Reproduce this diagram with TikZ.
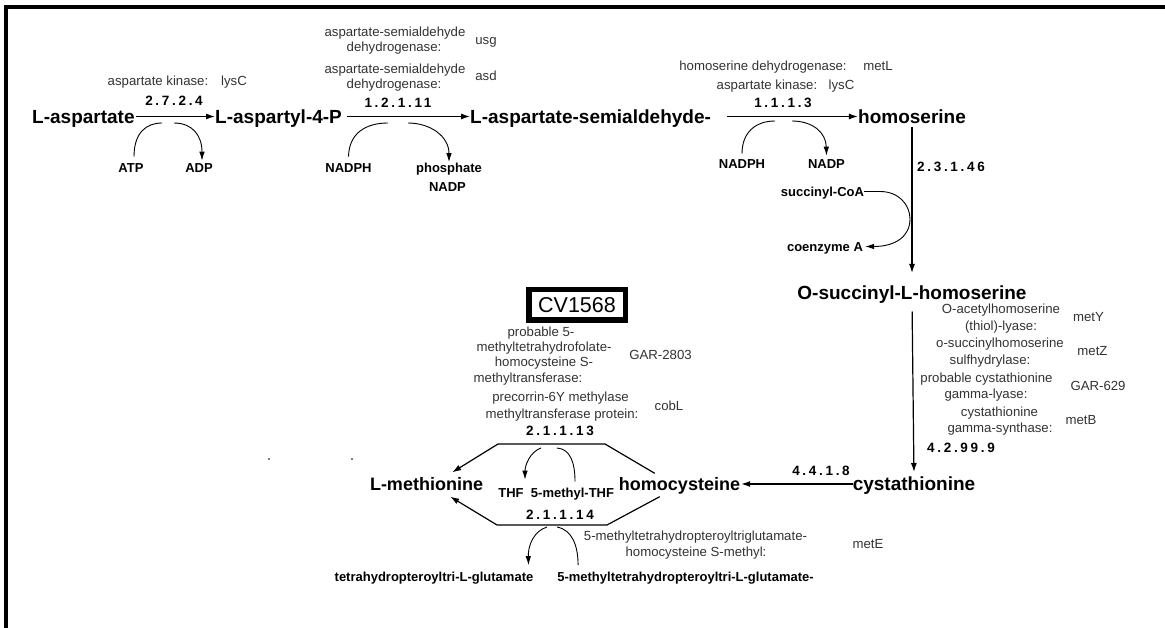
\documentclass[tikz,border=0pt]{standalone}
\usepackage{fontspec}
\setmainfont{Liberation Sans}
\newfontfamily\ecfont[LetterSpace=20]{Liberation Sans}
\usetikzlibrary{arrows.meta}
\begin{document}
\begin{tikzpicture}[x=1pt,y=-1pt,
  cmp/.style={font=\bfseries\fontsize{19}{22}\selectfont, inner sep=0pt, text height=13.6pt, text depth=0pt},
  cmpb/.style={font=\bfseries\fontsize{18}{21}\selectfont, inner sep=0pt, text height=12.9pt, text depth=0pt},
  sml/.style={font=\bfseries\fontsize{13}{15}\selectfont, inner sep=0pt, text height=9.3pt, text depth=0pt},
  enz/.style={font=\fontsize{13.2}{15}\selectfont, inner sep=0pt, text height=9.5pt, text depth=2.8pt, text=black!80},
  ecn/.style={font=\ecfont\bfseries\fontsize{13.5}{15}\selectfont, inner sep=0pt, text height=9.7pt, text depth=0pt},
  rxn/.style={line width=1.2pt, line join=round, -{Latex[length=9pt,width=6pt]}},
  sidecurve/.style={line width=0.9pt},
  sidearr/.style={line width=0.9pt, -{Latex[length=9pt,width=5.5pt]}},
  genebox/.style={draw, line width=5.5pt, minimum width=96.5pt, minimum height=30.5pt, inner sep=0pt, font=\fontsize{21.5}{24}\selectfont}
]
\useasboundingbox (0,0) rectangle (1165,628);
\fill[white] (0,0) rectangle (1165,628);
% frame along the top and left edges
\draw[line width=3.5pt] (6,628) -- (6,7) -- (1165,7);

% ---------- L-aspartate -> L-aspartyl-4-P ----------
\node[cmp,anchor=west] (asp) at (32,116.5) {L-aspartate};
\node[cmp,anchor=west] (aspp) at (215,116.5) {L-aspartyl-4-P};
\node[cmp,anchor=west] (asa) at (470,116.5) {L-aspartate-semialdehyde-};
\node[cmp] (hser) at (912,116.5) {homoserine};
\draw[rxn, shorten <=1pt] (asp.east) -- (aspp.west);
\draw[rxn, shorten <=5pt] (aspp.east) -- (asa.west);
\draw[rxn, shorten <=16pt] (asa.east) -- (hser.west);

\node[ecn] (ec1) at (174,101) {2.7.2.4};
\node[enz] (e1n) at (158,82) {aspartate kinase:};
\node[enz] (e1g) at (234,82) {lysC};
\node[sml] (atp) at (131,167.5) {ATP};
\node[sml] (adp) at (199,167.5) {ADP};
\coordinate (r1l) at (162,123);
\coordinate (r1r) at (174,123);
\draw[sidecurve] ([xshift=3pt,yshift=6pt]atp.north) .. controls (134,133) and (146,123) .. (r1l);
\draw[sidearr] (r1r) .. controls (192,123) and (202,135) .. ([xshift=3pt,yshift=2pt]adp.north);

% ---------- L-aspartyl-4-P -> L-aspartate-semialdehyde ----------
\node[ecn] (ec2) at (398,103) {1.2.1.11};
\node[enz] (e2a) at (395,33) {aspartate-semialdehyde};
\node[enz] (e2b) at (394,48) {dehydrogenase:};
\node[enz] (e2g) at (486,41) {usg};
\node[enz] (e2c) at (395,70) {aspartate-semialdehyde};
\node[enz] (e2d) at (394,85) {dehydrogenase:};
\node[enz] (e2h) at (486,77) {asd};
\node[sml] (nadph1) at (348.5,167.5) {NADPH};
\node[sml] (pho) at (449,168) {phosphate};
\node[sml] (nadp1) at (447.5,186.5) {NADP};
\coordinate (r2l) at (388,123);
\coordinate (r2r) at (408,123);
\draw[sidecurve] ([yshift=6pt]nadph1.north) .. controls (349,133) and (366,123) .. (r2l);
\draw[sidearr] (r2r) .. controls (430,123) and (449,136) .. ([yshift=1pt]pho.north);

% ---------- L-aspartate-semialdehyde -> homoserine ----------
\node[ecn] (ec3) at (783,103) {1.1.1.3};
\node[enz] (e3a) at (763,67) {homoserine dehydrogenase:};
\node[enz] (e3g) at (878,67) {metL};
\node[enz] (e3b) at (767,86) {aspartate kinase:};
\node[enz] (e3h) at (841.5,86) {lysC};
\node[sml] (nadph2) at (742,163.5) {NADPH};
\node[sml] (nadp2) at (826.5,163.5) {NADP};
\coordinate (r3l) at (775,121);
\coordinate (r3r) at (792,121);
\draw[sidecurve] ([yshift=5pt]nadph2.north) .. controls (742,132) and (756,121) .. (r3l);
\draw[sidearr] (r3r) .. controls (812,121) and (826,132) .. ([yshift=3pt]nadp2.north);

% ---------- homoserine -> O-succinyl-L-homoserine ----------
\node[cmp] (osh) at (912,292.5) {O-succinyl-L-homoserine};
\draw[rxn, shorten <=4pt, shorten >=12.5pt] (hser.south) -- (osh.north);
\node[ecn] (ec4) at (951,167) {2.3.1.46};
\node[sml] (sca) at (822.5,191.5) {succinyl-CoA};
\node[sml] (cza) at (825,246.5) {coenzyme A};
\coordinate (sbend) at (880,191.5);
\draw[sidearr] (sca.east) -- (sbend) .. controls (899,191.5) and (910,205) .. (910,219)
  .. controls (910,236) and (896,246.5) .. ([xshift=2pt]cza.east);

% ---------- O-succinyl-L-homoserine -> cystathionine ----------
\node[cmp] (cyst) at (914,484) {cystathionine};
\draw[rxn, shorten <=12pt, shorten >=5pt] (osh.south) -- (cyst.north);
\node[enz] (e5a) at (1001,310) {O-acetylhomoserine};
\node[enz] (e5b) at (1001,327) {(thiol)-lyase:};
\node[enz] (e5g) at (1088.5,318) {metY};
\node[enz] (e5c) at (1000,344) {o-succinylhomoserine};
\node[enz] (e5d) at (990,361) {sulfhydrylase:};
\node[enz] (e5h) at (1092.5,352) {metZ};
\node[enz] (e5e) at (986.5,379) {probable cystathionine};
\node[enz] (e5f) at (986,395) {gamma-lyase:};
\node[enz] (e5i) at (1098,387) {GAR-629};
\node[enz] (e5j) at (999.5,413) {cystathionine};
\node[enz] (e5k) at (1000,429) {gamma-synthase:};
\node[enz] (e5l) at (1081,421) {metB};
\node[ecn] (ec5) at (961,448) {4.2.99.9};

% ---------- cystathionine -> homocysteine ----------
\node[cmpb] (hcy) at (679.5,484) {homocysteine};
\draw[rxn, shorten >=1pt] (cyst.west) -- (hcy.east);
\node[ecn] (ec6) at (821,471) {4.4.1.8};

% ---------- homocysteine -> L-methionine ----------
\node[cmpb] (met) at (426.5,484) {L-methionine};
\coordinate (t13r) at (605,444);
\coordinate (t13l) at (498,444);
\draw[rxn] ([xshift=36pt,yshift=4pt]hcy.north west) -- (t13r) -- (t13l) -- ([xshift=-31pt,yshift=5pt]met.north east);
\coordinate (t14r) at (607,525);
\coordinate (t14l) at (497,525);
\draw[rxn] ([xshift=41pt,yshift=-6pt]hcy.south west) -- (t14r) -- (t14l) -- ([xshift=-33pt,yshift=-6pt]met.south east);

\node[genebox] (cv) at (577,305) {CV1568};
\node[enz] (e7a) at (541,333) {probable 5-};
\node[enz] (e7b) at (544,348) {methyltetrahydrofolate-};
\node[enz] (e7c) at (544,363) {homocysteine S-};
\node[enz] (e7d) at (528,379) {methyltransferase:};
\node[enz] (e7g) at (660.5,356) {GAR-2803};
\node[enz] (e7e) at (560.5,398) {precorrin-6Y methylase};
\node[enz] (e7f) at (562,415) {methyltransferase protein:};
\node[enz] (e7h) at (669,407) {cobL};
\node[ecn] (ec7) at (560,431) {2.1.1.13};
\node[ecn] (ec8) at (560,515) {2.1.1.14};

\node[sml] (thf) at (511,492.5) {THF};
\node[sml] (mthf) at (572.5,492.5) {5-methyl-THF};
\coordinate (s13a) at (541,448);
\coordinate (s13b) at (557,448);
\draw[sidearr] (s13a) .. controls (530,452) and (525,465) .. ([xshift=14pt,yshift=8pt]thf.north);
\draw[sidecurve] ([xshift=2.5pt,yshift=6pt]mthf.north) .. controls (575,462) and (570,449) .. (s13b);

\node[sml] (thg) at (434,577) {tetrahydropteroyltri-L-glutamate};
\node[sml] (mthg) at (685.5,577) {5-methyltetrahydropteroyltri-L-glutamate-};
\coordinate (s14a) at (547,527);
\coordinate (s14b) at (557,527);
\draw[sidearr] (s14a) .. controls (534,531) and (528,545) .. ([xshift=-5pt,yshift=7pt]thg.north east);
\draw[sidecurve] ([xshift=21pt,yshift=7pt]mthg.north west) .. controls (578,545) and (572,530) .. (s14b);

\node[enz] (e8a) at (695.5,537) {5-methyltetrahydropteroyltriglutamate-};
\node[enz] (e8b) at (696,553) {homocysteine S-methyl:};
\node[enz] (e8g) at (868,545) {metE};

% two stray specks
\fill (269,459) circle (0.8pt);
\fill (352,459) circle (0.8pt);
\end{tikzpicture}
\end{document}
